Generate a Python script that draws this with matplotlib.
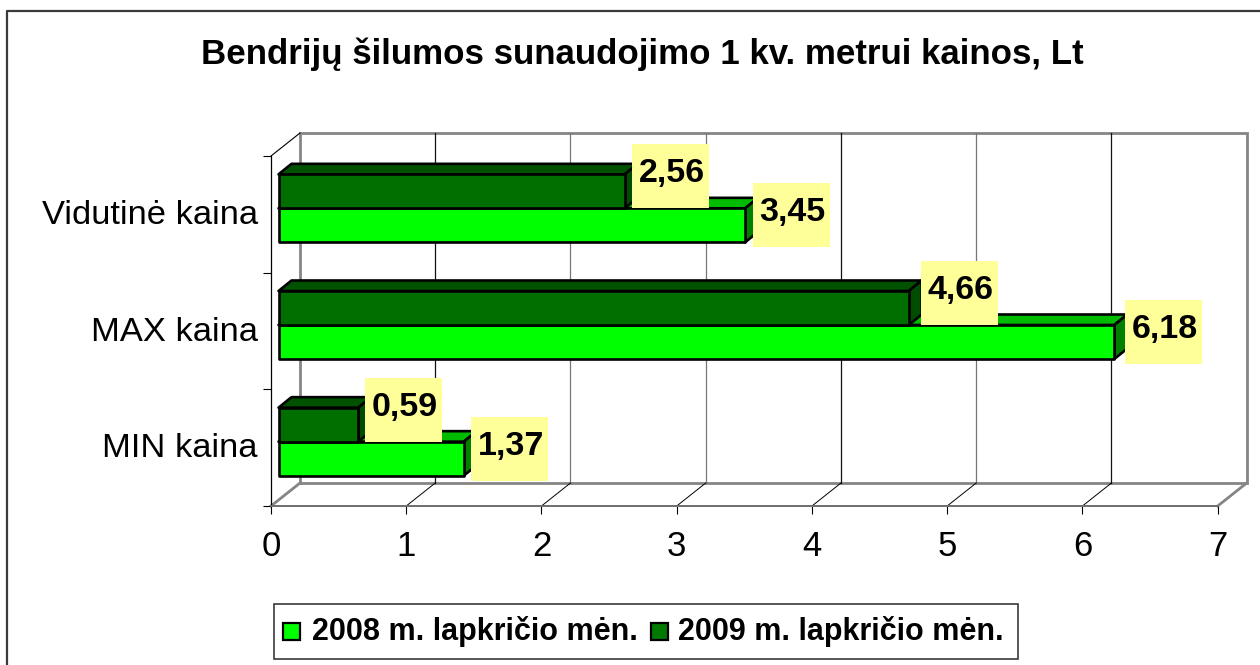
import matplotlib
matplotlib.use("Agg")
import matplotlib.pyplot as plt
from matplotlib.patches import Polygon, Rectangle

categories = ["MIN kaina", "MAX kaina", "Vidutinė kaina"]
values_2008 = [1.37, 6.18, 3.45]
values_2009 = [0.59, 4.66, 2.56]
series_names = ["2008 m. lapkričio mėn.", "2009 m. lapkričio mėn."]
title = "Bendrijų šilumos sunaudojimo 1 kv. metrui kainos, Lt"
x_ticks = [0, 1, 2, 3, 4, 5, 6, 7]

W, H = 1260, 665
X0, X7, Y0, Y3 = 271, 1217.7, 506, 156
UX = (X7 - X0) / 7
UY = (Y0 - Y3) / 3
FONT = "Liberation Sans"

# one unit on each axis in pixels, everything 3d is offset from these
WALL_DX, WALL_DY = 29 / UX, 23 / UY
BAR_DX, BAR_DY = 13 / UX, 10.5 / UY
BAR_START = 7.5 / UX
BAR_H = 34 / UY
BAR_BOTTOM = 0.26


def px_fig(x, y):
    return x / W, 1 - y / H


def draw_bar(ax, i, value, bottom, front, top, side):
    x0, x1 = BAR_START, BAR_START + value
    y0, y1 = bottom, bottom + BAR_H
    faces = [
        ([(x0, y1), (x1, y1), (x1 + BAR_DX, y1 + BAR_DY), (x0 + BAR_DX, y1 + BAR_DY)], top),
        ([(x1, y0), (x1 + BAR_DX, y0 + BAR_DY), (x1 + BAR_DX, y1 + BAR_DY), (x1, y1)], side),
        ([(x0, y0), (x1, y0), (x1, y1), (x0, y1)], front),
    ]
    for pts, color in faces:
        ax.add_patch(Polygon(pts, closed=True, facecolor=color, edgecolor="black",
                             linewidth=1.9, joinstyle="round", zorder=5 + i, clip_on=False))


def draw_label(ax, value, bottom, shift_x, shift_y):
    # yellow box sits right of the bar end, fixed size like excel draws it
    left = BAR_START + value + shift_x / UX
    low = bottom - shift_y / UY
    ax.add_patch(Rectangle((left, low), 77 / UX, 64 / UY, facecolor="#FFFF99",
                           edgecolor="none", zorder=20, clip_on=False))
    ax.text(left + 6.5 / UX, low + 26 / UY, f"{value:.2f}".replace(".", ","),
            fontsize=24.5, fontweight="bold", family=FONT, ha="left", va="baseline", zorder=21)


fig = plt.figure(figsize=(W / 100, H / 100), dpi=100, facecolor="white")
ax = fig.add_axes([X0 / W, 1 - Y0 / H, (X7 - X0) / W, (Y0 - Y3) / H])
ax.set_xlim(0, 7)
ax.set_ylim(0, 3)
ax.patch.set_alpha(0)

# back wall and floor
gray = "#858585"
ax.plot([WALL_DX, WALL_DX, 7 + WALL_DX, 7 + WALL_DX, WALL_DX],
        [WALL_DY, 3 + WALL_DY, 3 + WALL_DY, WALL_DY, WALL_DY],
        color=gray, lw=2, clip_on=False, zorder=1, solid_joinstyle="miter")
ax.plot([0, WALL_DX], [0, WALL_DY], color=gray, lw=2, clip_on=False, zorder=1)
ax.plot([7, 7 + WALL_DX], [0, WALL_DY], color=gray, lw=2, clip_on=False, zorder=1)
ax.plot([0, WALL_DX], [3, 3 + WALL_DY], color="black", lw=0.8, clip_on=False, zorder=1)

grid_colors = ["#111111", "#777777", "#777777", "#111111", "#777777", "#111111"]
for t, c in zip(x_ticks[1:-1], grid_colors):
    ax.plot([t + WALL_DX, t + WALL_DX], [WALL_DY, 3 + WALL_DY], color=c, lw=0.9, clip_on=False, zorder=1)
    ax.plot([t, t + WALL_DX], [0, WALL_DY], color="black", lw=0.7, clip_on=False, zorder=1)

for side in ["top", "right"]:
    ax.spines[side].set_visible(False)
ax.spines["left"].set_linewidth(0.9)
ax.spines["bottom"].set_color("#6e6e6e")
ax.spines["bottom"].set_linewidth(1.4)

ax.set_xticks(x_ticks)
ax.set_yticks([0, 1, 2, 3])
ax.set_yticklabels([])
ax.tick_params(axis="x", length=6, width=0.8, pad=11.5, labelsize=25, color="black")
ax.tick_params(axis="y", length=6, width=0.8)
for lab in ax.get_xticklabels():
    lab.set_family(FONT)

ax.set_yticks([i + 0.52 for i in range(3)], categories, minor=True)
ax.tick_params(axis="y", which="minor", length=0, pad=9.4, labelsize=24.8)
for lab in ax.get_yticklabels(minor=True):
    lab.set_family(FONT)

label_shift_2008 = [7.3, 11, 8]
label_shift_2009 = [6.7, 12.5, 7.4]
for i in range(3):
    low = i + BAR_BOTTOM
    draw_bar(ax, i, values_2008[i], low, "#00FF00", "#00BB00", "#007F00")
    draw_bar(ax, i, values_2009[i], low + BAR_H, "#006F00", "#005200", "#004C00")
for i in range(3):
    low = i + BAR_BOTTOM
    draw_label(ax, values_2008[i], low, label_shift_2008[i], 5)
    draw_label(ax, values_2009[i], low + BAR_H, label_shift_2009[i], 0)

# title
tx, ty = px_fig(642.5, 64)
fig.text(tx, ty, title, fontsize=25.1, fontweight="bold", family=FONT, ha="center", va="baseline")

# outer chart frame, only top and left are inside the picture
fig.add_artist(plt.Line2D([7 / W, 7 / W, 1], [0, 1 - 11 / H, 1 - 11 / H], color="#3a3a3a", lw=1.6,
                          transform=fig.transFigure))

# legend box
lx, ly = px_fig(274, 659)
fig.add_artist(Rectangle((lx, ly), (1018 - 274) / W, (659 - 604) / H, transform=fig.transFigure,
                         facecolor="white", edgecolor="#3a3a3a", lw=1.2))
swatches = [(283, "#00FF00", 311.5), (650.5, "#007A00", 678.5)]
for (sx, color, text_x), name in zip(swatches, series_names):
    px, py = px_fig(sx, 640)
    fig.add_artist(Rectangle((px, py), 17 / W, 17 / H, transform=fig.transFigure,
                             facecolor=color, edgecolor="black", lw=1.6))
    px, py = px_fig(text_x, 640)
    fig.text(px, py, name, fontsize=22, fontweight="bold", family=FONT, ha="left", va="baseline")

fig.savefig("out.png", dpi=100)
